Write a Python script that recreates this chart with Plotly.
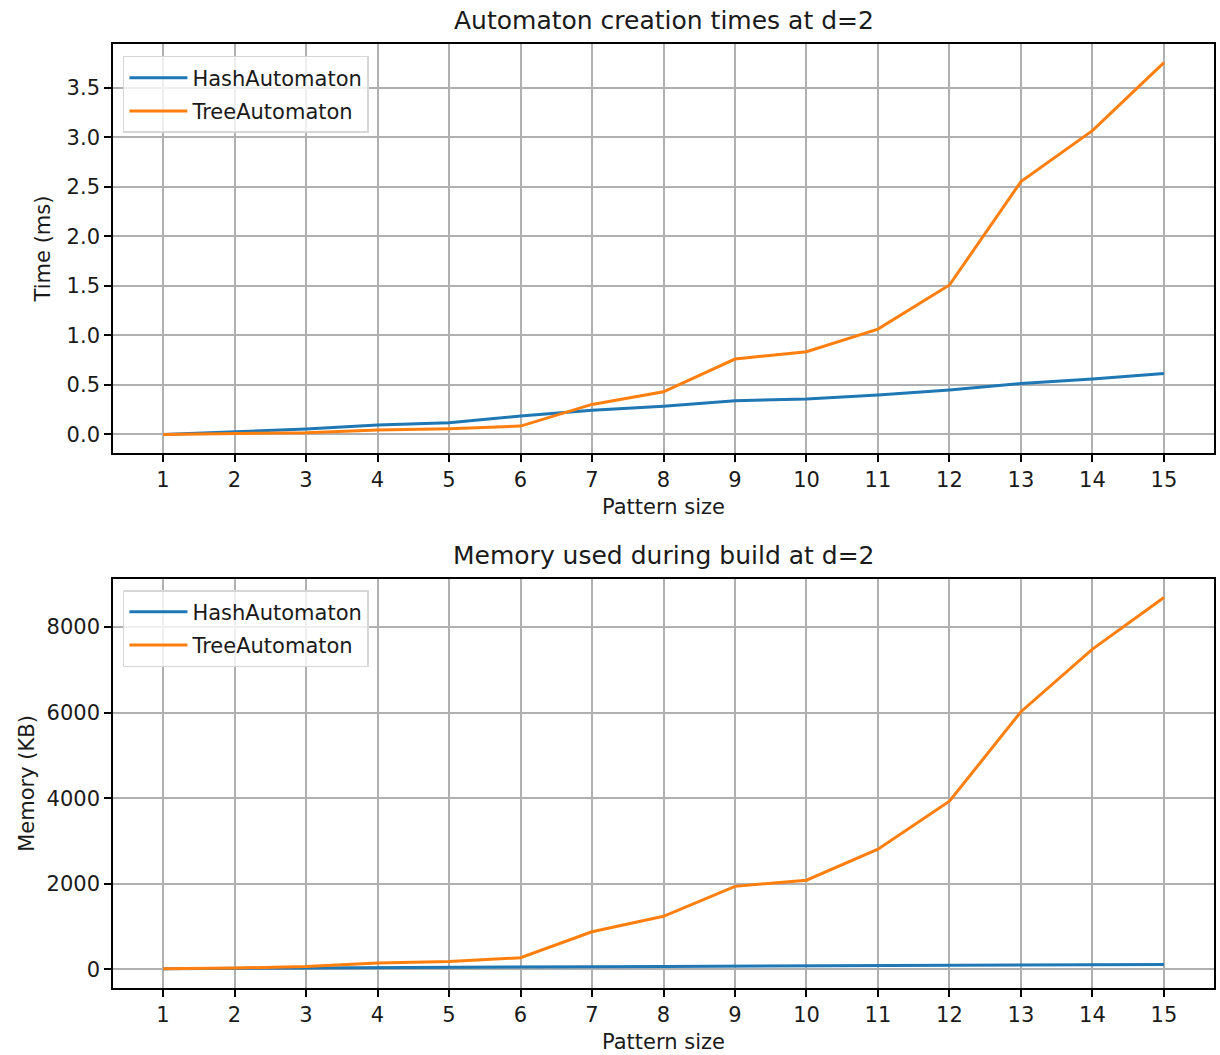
import plotly.graph_objects as go

pattern_size = list(range(1, 16))
time_hash = [0.0, 0.027, 0.054, 0.094, 0.118, 0.185, 0.245, 0.285, 0.34, 0.357, 0.397, 0.448, 0.515, 0.559, 0.616]
time_tree = [0.0, 0.005, 0.017, 0.044, 0.057, 0.084, 0.303, 0.431, 0.761, 0.835, 1.064, 1.509, 2.553, 3.068, 3.755]
mem_hash = [15, 25, 35, 50, 55, 60, 65, 70, 78, 86, 93, 101, 109, 117, 117]
mem_tree = [15, 31, 70, 148, 187, 272, 880, 1240, 1940, 2084, 2807, 3930, 6018, 7480, 8685]

BLUE = "#1f77b4"
ORANGE = "#ff7f0e"
FONT = "DejaVu Sans"
TXT = "#1a1a1a"
LW = 3

fig = go.Figure()
fig.add_trace(go.Scatter(x=pattern_size, y=time_hash, mode="lines", name="HashAutomaton",
                         line=dict(color=BLUE, width=LW), xaxis="x", yaxis="y", legend="legend",
                         legendgroup="h1"))
fig.add_trace(go.Scatter(x=pattern_size, y=time_tree, mode="lines", name="TreeAutomaton",
                         line=dict(color=ORANGE, width=LW), xaxis="x", yaxis="y", legend="legend",
                         legendgroup="t1"))
fig.add_trace(go.Scatter(x=pattern_size, y=mem_hash, mode="lines", name="HashAutomaton",
                         line=dict(color=BLUE, width=LW), xaxis="x2", yaxis="y2", legend="legend2",
                         legendgroup="h2"))
fig.add_trace(go.Scatter(x=pattern_size, y=mem_tree, mode="lines", name="TreeAutomaton",
                         line=dict(color=ORANGE, width=LW), xaxis="x2", yaxis="y2", legend="legend2",
                         legendgroup="t2"))

axis_common = dict(showline=True, linecolor="black", linewidth=1.6, mirror=True,
                   ticks="outside", ticklen=7, tickwidth=1.6, tickcolor="black",
                   showgrid=True, gridcolor="#b0b0b0", gridwidth=1.6, zeroline=False,
                   tickfont=dict(size=21, color=TXT, family=FONT))

xaxis_common = dict(axis_common, range=[0.3, 15.7], tickmode="array", tickvals=pattern_size,
                    title=dict(text="Pattern size", font=dict(size=21, color=TXT, family=FONT), standoff=8))

legend_common = dict(x=0.009, xanchor="left", yanchor="top",
                     bgcolor="rgba(255,255,255,0.8)", bordercolor="#d6d6d6", borderwidth=1.5,
                     font=dict(size=21, color=TXT, family=FONT), itemwidth=58,
                     traceorder="grouped", tracegroupgap=3,
                     xref="paper", yref="paper")

fig.update_layout(
    width=1220, height=1055,
    margin=dict(l=113, r=4, t=44, b=67),
    paper_bgcolor="white", plot_bgcolor="white",
    font=dict(family=FONT, color=TXT),
    xaxis=dict(xaxis_common, anchor="y", domain=[0, 1]),
    yaxis=dict(axis_common, anchor="x", domain=[0.5667, 1.0], range=[-0.188, 3.943],
               tickmode="array", tickvals=[0, 0.5, 1, 1.5, 2, 2.5, 3, 3.5],
               ticktext=["0.0", "0.5", "1.0", "1.5", "2.0", "2.5", "3.0", "3.5"],
               title=dict(text="Time (ms)", font=dict(size=21, color=TXT, family=FONT), standoff=10)),
    xaxis2=dict(xaxis_common, anchor="y2", domain=[0, 1]),
    yaxis2=dict(axis_common, anchor="x2", domain=[0.0, 0.4333], range=[-434, 9119],
                tickmode="array", tickvals=[0, 2000, 4000, 6000, 8000],
                title=dict(text="Memory (KB)", font=dict(size=21, color=TXT, family=FONT), standoff=6)),
    legend=dict(legend_common, y=0.9873),
    legend2=dict(legend_common, y=0.4216),
    showlegend=True,
    annotations=[
        dict(text="Automaton creation times at d=2", x=0.5, xref="x domain", y=1, yref="y domain",
             xanchor="center", yanchor="bottom", yshift=7, showarrow=False,
             font=dict(size=25, color=TXT, family=FONT)),
        dict(text="Memory used during build at d=2", x=0.5, xref="x2 domain", y=1, yref="y2 domain",
             xanchor="center", yanchor="bottom", yshift=7, showarrow=False,
             font=dict(size=25, color=TXT, family=FONT)),
    ],
)

fig.write_html("out.html")
